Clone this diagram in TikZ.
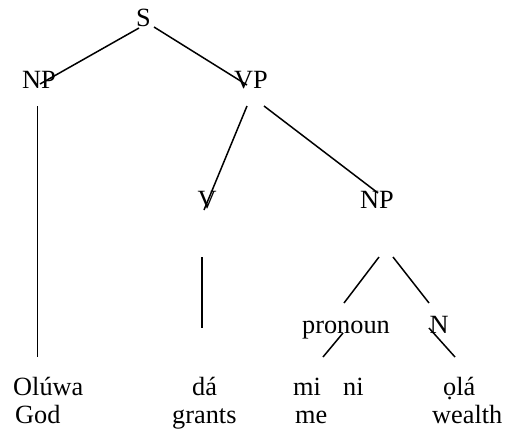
\documentclass[tikz,border=0pt]{standalone}
\usepackage{fontspec}
\setmainfont{Liberation Serif}
\begin{document}
\begin{tikzpicture}[x=1pt,y=-1pt,
  lbl/.style={inner sep=0pt,anchor=base,font=\fontsize{26.3}{29}\selectfont},
  branch/.style={line width=1.5pt,line cap=butt}]
\useasboundingbox (0,0) rectangle (505,432);
% category labels
\node[lbl] (s) at (143.5,26.5) {S};
\node[lbl] (np1) at (39,88) {NP};
\node[lbl] (vp) at (251,88) {VP};
\node[lbl] (v) at (207,208) {V};
\node[lbl] (np2) at (377,208) {NP};
\node[lbl] (pron) at (346,333) {pronoun};
\node[lbl] (n) at (439,333) {N};
% words
\node[lbl,anchor=base west] (oluwa) at (13,395) {Olúwa};
\node[lbl,anchor=base west] (god) at (15,423) {God};
\node[lbl,anchor=base west] (da) at (192,395) {dá};
\node[lbl,anchor=base west] (grants) at (172,423) {grants};
\node[lbl,anchor=base west] (mi) at (293,395) {mi};
\node[lbl,anchor=base west] (ni) at (343,395) {ni};
\node[lbl,anchor=base west] (me) at (295,423) {me};
\node[lbl,anchor=base west] (ola) at (443,395) {ọlá};
\node[lbl,anchor=base west] (wealth) at (432,423) {wealth};
% branch end points
\coordinate (sL) at (139,28);   \coordinate (np1T) at (40,84);
\coordinate (sR) at (154,27);   \coordinate (vpT) at (247,85);
\coordinate (np1B) at (37.7,106); \coordinate (oluwaT) at (37.7,357);
\coordinate (vpL) at (247,106); \coordinate (vT) at (204,210);
\coordinate (vpR) at (264,106); \coordinate (np2T) at (378,193);
\coordinate (vB) at (202,257);  \coordinate (daT) at (202,328);
\coordinate (np2L) at (379,257); \coordinate (pronT) at (344,303);
\coordinate (np2R) at (393,257); \coordinate (nT) at (429,303);
\coordinate (pronB) at (343,333); \coordinate (miT) at (323,357);
\coordinate (nB) at (429,328);  \coordinate (olaT) at (455,357);
% branches
\draw[branch] (sL) -- (np1T);
\draw[branch] (sR) -- (vpT);
\draw[branch] (np1B) -- (oluwaT);
\draw[branch] (vpL) -- (vT);
\draw[branch] (vpR) -- (np2T);
\draw[branch] (vB) -- (daT);
\draw[branch] (np2L) -- (pronT);
\draw[branch] (np2R) -- (nT);
\draw[branch] (pronB) -- (miT);
\draw[branch] (nB) -- (olaT);
\end{tikzpicture}
\end{document}
